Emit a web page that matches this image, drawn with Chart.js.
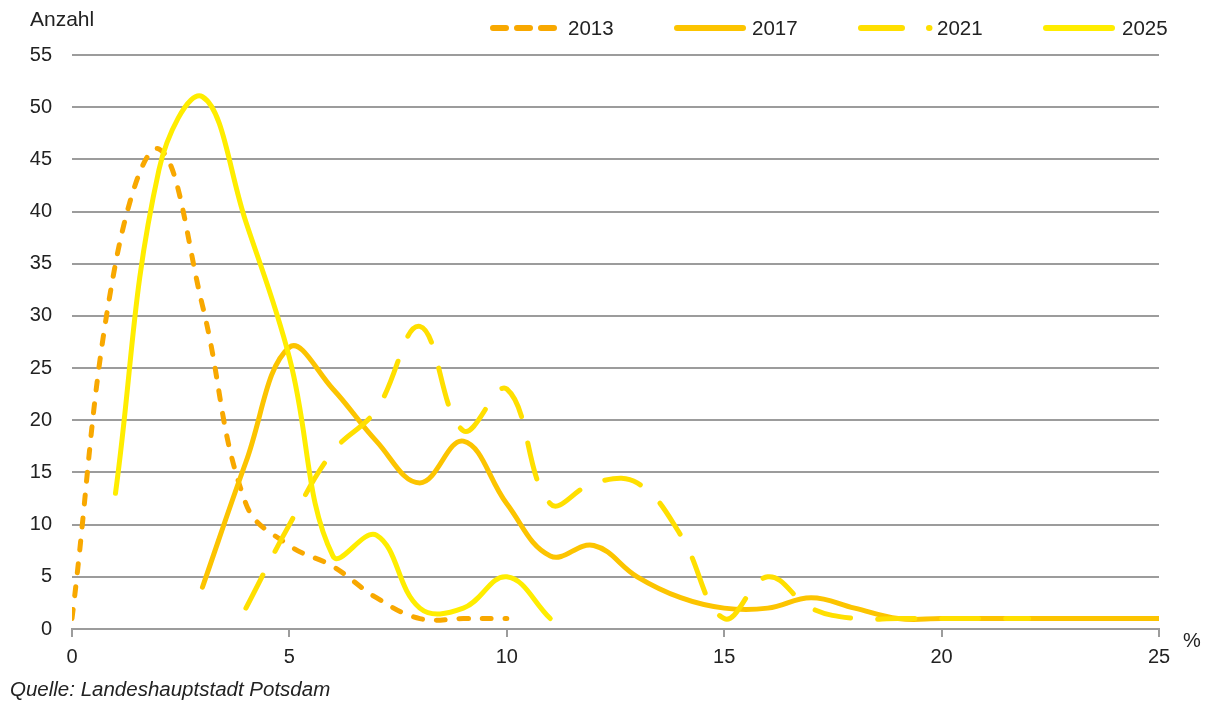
<!DOCTYPE html>
<html lang="de">
<head>
<meta charset="utf-8">
<title>Anzahl nach Prozent</title>
<script src="https://cdn.jsdelivr.net/npm/chart.js@4.4.0/dist/chart.umd.min.js"></script>
<style>
  html, body { margin: 0; padding: 0; background: #fff; }
  #wrap { position: relative; width: 1212px; height: 703px; }
</style>
</head>
<body>
<div id="wrap"><canvas id="chart" width="1212" height="703"></canvas></div>
<script>
// Werte (x = Prozent, y = Anzahl)
const years = ["2013", "2017", "2021", "2025"];

const pct2013 = [0, 1, 2, 3, 4, 5, 6, 7, 8, 9, 10];
const count2013 = [1, 35, 46, 31, 12, 8, 6, 3, 1, 1, 1];

const pct2017 = [3, 4, 5, 6, 7, 8, 9, 10, 11, 12, 13, 14, 15, 16, 17, 18, 19, 20, 21, 22, 23, 24, 25];
const count2017 = [4, 16, 27, 23, 18, 14, 18, 12, 7, 8, 5, 3, 2, 2, 3, 2, 1, 1, 1, 1, 1, 1, 1];

const pct2021 = [4, 5, 6, 7, 8, 9, 10, 11, 12, 13, 14, 15, 16, 17, 18, 19, 20, 21, 22];
const count2021 = [2, 10, 17, 21, 29, 19, 23, 12, 14, 14, 9, 1, 5, 2, 1, 1, 1, 1, 1];

const pct2025 = [1, 2, 3, 4, 5, 6, 7, 8, 9, 10, 11];
const count2025 = [13, 44, 51, 39, 26, 7, 9, 2, 2, 5, 1];

const yTicks = [0, 5, 10, 15, 20, 25, 30, 35, 40, 45, 50, 55];
const xTicks = [0, 5, 10, 15, 20, 25];

const colors = ["#f8a800", "#fcc400", "#ffdf00", "#ffed00"];
const dashes = [[9, 14], [], [37, 27], []];
const FONT = "'Liberation Sans', Arial, Helvetica, sans-serif";
const GRID = "#9c9c9c";

function toPoints(xs, ys) {
    return xs.map((x, i) => ({ x: x, y: ys[i] }));
}

const series = [
    toPoints(pct2013, count2013),
    toPoints(pct2017, count2017),
    toPoints(pct2021, count2021),
    toPoints(pct2025, count2025),
];

// Legende, Achsentitel und Quelle
const extras = {
    id: "extras",
    afterDraw(chart) {
        const ctx = chart.ctx;
        ctx.save();

        const legend = [
            { from: 493, to: 554, text: 568, dash: [13, 11] },
            { from: 677, to: 743, text: 752, dash: [] },
            { from: 861, to: 929.5, text: 937, dash: [41, 27] },
            { from: 1046, to: 1112, text: 1122, dash: [] },
        ];
        legend.forEach((item, i) => {
            ctx.beginPath();
            ctx.setLineDash(item.dash);
            ctx.lineCap = "round";
            ctx.lineWidth = 6;
            ctx.strokeStyle = colors[i];
            ctx.moveTo(item.from, 28);
            ctx.lineTo(item.to, 28);
            ctx.stroke();
            ctx.setLineDash([]);
            ctx.fillStyle = "#222";
            ctx.font = "20.5px " + FONT;
            ctx.textAlign = "left";
            ctx.textBaseline = "middle";
            ctx.fillText(years[i], item.text, 29);
        });

        ctx.fillStyle = "#222";
        ctx.font = "21px " + FONT;
        ctx.textBaseline = "middle";
        ctx.textAlign = "left";
        ctx.fillText("Anzahl", 30, 20);
        ctx.font = "20px " + FONT;
        ctx.fillText("%", 1183, 641);

        ctx.font = "italic 20.5px " + FONT;
        ctx.fillText("Quelle: Landeshauptstadt Potsdam", 10, 690);
        ctx.restore();
    },
};

new Chart(document.getElementById("chart"), {
    type: "line",
    data: {
        datasets: series.map((points, i) => ({
            label: years[i],
            data: points,
            borderColor: colors[i],
            backgroundColor: colors[i],
            borderWidth: 5,
            borderDash: dashes[i],
            borderCapStyle: "round",
            borderJoinStyle: "round",
            tension: 0.4,
            pointRadius: 0,
            fill: false,
            order: 3 - i,
        })),
    },
    options: {
        responsive: false,
        animation: false,
        devicePixelRatio: 1,
        layout: { padding: { left: 0, right: 53, top: 55, bottom: 0 } },
        plugins: {
            legend: { display: false },
            tooltip: { enabled: false },
        },
        scales: {
            x: {
                type: "linear",
                min: 0,
                max: 25,
                afterFit: (scale) => { scale.height = 74; },
                afterBuildTicks: (scale) => { scale.ticks = xTicks.map((v) => ({ value: v })); },
                ticks: {
                    color: "#222",
                    font: { family: FONT, size: 20 },
                    padding: 8,
                    maxRotation: 0,
                },
                grid: {
                    drawOnChartArea: false,
                    drawTicks: true,
                    tickLength: 8,
                    color: GRID,
                    lineWidth: 2,
                },
                border: { display: true, color: GRID, width: 2 },
            },
            y: {
                min: 0,
                max: 55,
                afterFit: (scale) => { scale.width = 72; },
                afterBuildTicks: (scale) => { scale.ticks = yTicks.map((v) => ({ value: v })); },
                ticks: {
                    color: "#222",
                    font: { family: FONT, size: 20 },
                    padding: 20,
                },
                grid: {
                    drawTicks: false,
                    color: GRID,
                    lineWidth: 2,
                },
                border: { display: false },
            },
        },
    },
    plugins: [extras],
});
</script>
</body>
</html>
